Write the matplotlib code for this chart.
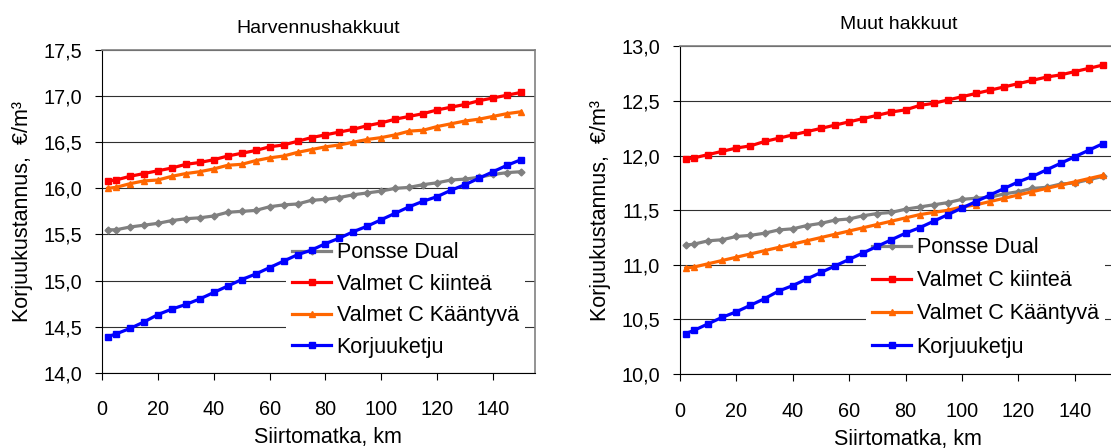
import matplotlib
matplotlib.use('Agg')
import matplotlib.pyplot as plt
from matplotlib.ticker import FuncFormatter

plt.rcParams['font.family'] = ['Liberation Sans', 'DejaVu Sans']

# Siirtomatka, km
siirtomatka = [2, 5, 10, 15, 20, 25, 30, 35, 40, 45, 50, 55, 60, 65, 70, 75,
               80, 85, 90, 95, 100, 105, 110, 115, 120, 125, 130, 135, 140, 145, 150]

series_names = ['Ponsse Dual', 'Valmet C kiinteä', 'Valmet C Kääntyvä', 'Korjuuketju']

# Harvennushakkuut, €/m3
harv_ponsse = [15.55, 15.55, 15.58, 15.60, 15.62, 15.65, 15.67, 15.68, 15.70, 15.74,
               15.75, 15.76, 15.80, 15.82, 15.83, 15.87, 15.88, 15.90, 15.93, 15.95,
               15.97, 16.00, 16.01, 16.04, 16.06, 16.09, 16.10, 16.12, 16.15, 16.17, 16.18]
harv_kiintea = [16.08, 16.09, 16.13, 16.16, 16.19, 16.22, 16.26, 16.28, 16.31, 16.35,
                16.38, 16.41, 16.45, 16.47, 16.51, 16.55, 16.58, 16.61, 16.64, 16.68,
                16.71, 16.75, 16.78, 16.81, 16.85, 16.88, 16.91, 16.95, 16.98, 17.01, 17.04]
harv_kaantyva = [16.00, 16.01, 16.05, 16.08, 16.09, 16.13, 16.16, 16.18, 16.21, 16.25,
                 16.26, 16.30, 16.33, 16.35, 16.39, 16.42, 16.45, 16.47, 16.50, 16.53,
                 16.55, 16.58, 16.62, 16.63, 16.67, 16.70, 16.73, 16.75, 16.78, 16.81, 16.83]
harv_ketju = [14.39, 14.42, 14.48, 14.55, 14.63, 14.69, 14.74, 14.80, 14.87, 14.94,
              15.01, 15.07, 15.14, 15.21, 15.28, 15.33, 15.40, 15.46, 15.53, 15.59,
              15.66, 15.73, 15.80, 15.86, 15.91, 15.98, 16.04, 16.11, 16.18, 16.25, 16.31]

# Muut hakkuut, €/m3
muut_ponsse = [11.18, 11.19, 11.22, 11.23, 11.26, 11.27, 11.29, 11.32, 11.33, 11.36,
               11.38, 11.41, 11.42, 11.45, 11.47, 11.48, 11.51, 11.53, 11.55, 11.57,
               11.60, 11.61, 11.62, 11.65, 11.67, 11.70, 11.71, 11.74, 11.75, 11.78, 11.81]
muut_kiintea = [11.97, 11.98, 12.01, 12.04, 12.07, 12.09, 12.13, 12.16, 12.19, 12.22,
                12.25, 12.28, 12.31, 12.34, 12.37, 12.40, 12.42, 12.46, 12.48, 12.51,
                12.54, 12.57, 12.60, 12.63, 12.66, 12.69, 12.72, 12.74, 12.77, 12.80, 12.83]
muut_kaantyva = [10.97, 10.98, 11.01, 11.04, 11.07, 11.10, 11.13, 11.16, 11.19, 11.22,
                 11.25, 11.28, 11.31, 11.34, 11.37, 11.40, 11.43, 11.46, 11.48, 11.50,
                 11.53, 11.55, 11.58, 11.61, 11.64, 11.67, 11.70, 11.73, 11.76, 11.79, 11.82]
muut_ketju = [10.37, 10.40, 10.46, 10.52, 10.57, 10.63, 10.69, 10.76, 10.81, 10.87,
              10.93, 10.99, 11.05, 11.11, 11.17, 11.23, 11.29, 11.34, 11.40, 11.46,
              11.52, 11.58, 11.64, 11.70, 11.76, 11.81, 11.87, 11.93, 11.99, 12.05, 12.11]

x_ticks = [0, 20, 40, 60, 80, 100, 120, 140]
harv_yticks = [14.0, 14.5, 15.0, 15.5, 16.0, 16.5, 17.0, 17.5]
muut_yticks = [10.0, 10.5, 11.0, 11.5, 12.0, 12.5, 13.0]

colors = ['#808080', '#FF0000', '#FF6600', '#0000FF']
markers = ['D', 's', '^', 's']
msizes = [3.5, 4, 5, 4]

comma = FuncFormatter(lambda v, pos: f"{v:.1f}".replace('.', ','))


def draw_panel(ax, title, data, yticks, leg_anchor, leg_spacing):
    for vals, name, c, m, ms in zip(data, series_names, colors, markers, msizes):
        ax.plot(siirtomatka, vals, color=c, marker=m, markersize=ms,
                linewidth=2.3, label=name, zorder=3)
    ax.set_xlim(0, 155)
    ax.set_ylim(yticks[0], yticks[-1])
    ax.set_xticks(x_ticks)
    ax.set_yticks(yticks)
    ax.yaxis.set_major_formatter(comma)
    ax.tick_params(direction='out', length=5, width=0.8, labelsize=14.3, color='black')
    ax.tick_params(axis='x', pad=15)
    ax.tick_params(axis='y', pad=9.5)
    ax.set_axisbelow(True)
    ax.grid(axis='y', color='#303030', linewidth=0.8)
    for side in ('top', 'right'):
        ax.spines[side].set_color('#808080')
        ax.spines[side].set_linewidth(1.2)
    for side in ('left', 'bottom'):
        ax.spines[side].set_color('black')
        ax.spines[side].set_linewidth(0.8)
    ax.set_title(title, fontsize=14, pad=12.5)
    ax.set_xlabel('Siirtomatka, km', fontsize=15.5)
    ax.set_ylabel('Korjuukustannus,  €/m³', fontsize=15.5)
    ax.xaxis.set_label_coords(0.521, -0.168)
    ax.yaxis.set_label_coords(-0.159, 0.5)
    leg = ax.legend(loc='upper left', bbox_to_anchor=leg_anchor, borderaxespad=0,
                    fontsize=15.5, frameon=True, fancybox=False, facecolor='white',
                    edgecolor='none', framealpha=1, borderpad=0.3,
                    handlelength=1.8, handletextpad=0.25, labelspacing=leg_spacing)
    leg.set_zorder(1.5)


fig = plt.figure(figsize=(11.11, 4.48), dpi=100)

ax1 = fig.add_axes([102 / 1111, 1 - 372.7 / 448, 433 / 1111, 322.7 / 448])
draw_panel(ax1, 'Harvennushakkuut',
           [harv_ponsse, harv_kiintea, harv_kaantyva, harv_ketju],
           harv_yticks, (0.425, 0.424), 0.49)

ax2 = fig.add_axes([680 / 1111, 1 - 374 / 448, 437 / 1111, 327.5 / 448])
draw_panel(ax2, 'Muut hakkuut',
           [muut_ponsse, muut_kiintea, muut_kaantyva, muut_ketju],
           muut_yticks, (0.4256, 0.437), 0.56)

fig.savefig('out.png', dpi=100)
